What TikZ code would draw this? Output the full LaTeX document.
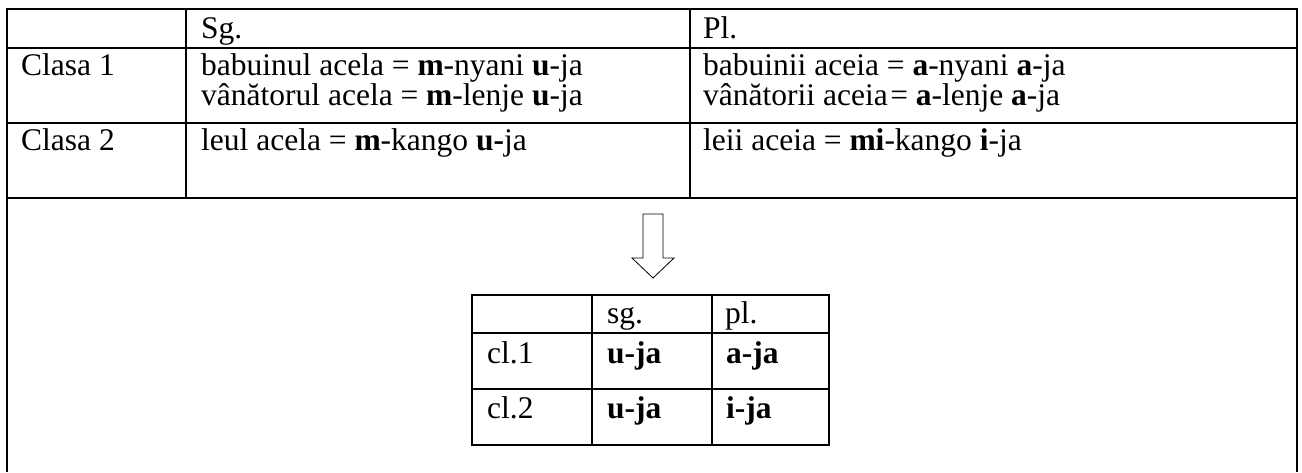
\documentclass[tikz,border=0pt]{standalone}
\usepackage{fontspec}
\setmainfont{Liberation Serif}
\usetikzlibrary{positioning}

\tikzset{
  cell/.style={anchor=base west, inner sep=0pt, font=\fontsize{31.5}{30}\selectfont},
  rule/.style={line width=1.6pt},
}

\begin{document}
\begin{tikzpicture}[x=1pt,y=-1pt]
\useasboundingbox (0,0) rectangle (1302,472);

% big table
\draw[rule] (7,472) -- (7,9) -- (1297,9) -- (1297,472);
\draw[rule] (7,48) -- (1297,48);
\draw[rule] (7,123) -- (1297,123);
\draw[rule] (7,198) -- (1297,198);
\draw[rule] (186,9) -- (186,198);
\draw[rule] (690,9) -- (690,198);

\node (sg) [cell] at (201,38) {Sg.};
\node (pl) [cell] at (703,38) {Pl.};
\node (clasa1) [cell] at (21,75) {Clasa 1};
\node (clasa2) [cell] at (21,150) {Clasa 2};

\node (sgbab) [cell] at (201,75) {babuinul acela = \textbf{m}-nyani \textbf{u}-ja};
\node (sgvan) [cell] at ([yshift=-30pt]sgbab.base west) {vânătorul acela = \textbf{m}-lenje \textbf{u}-ja};
\node (plbab) [cell] at (703,75) {babuinii aceia = \textbf{a}-nyani \textbf{a}-ja};
\node (plvan) [cell] at ([yshift=-30pt]plbab.base west) {vânătorii aceia\hspace{0.08em}= \textbf{a}-lenje \textbf{a}-ja};
\node (sgleu) [cell] at (201,150) {leul acela = \textbf{m}-kango \textbf{u-}ja};
\node (plleu) [cell] at (703,150) {leii aceia = \textbf{mi}-kango \textbf{i}-ja};

% arrow
\draw[line width=0.8pt] (643,214) -- (663,214) -- (663,258) -- (674,258)
  -- (653,278) -- (632,258) -- (643,258) -- cycle;

% small table
\draw[rule] (472,295) rectangle (829,445);
\draw[rule] (472,333) -- (829,333);
\draw[rule] (472,389) -- (829,389);
\draw[rule] (592,295) -- (592,445);
\draw[rule] (712,295) -- (712,445);

\node (ssg) [cell] at (607,323) {sg.};
\node (spl) [cell] at (725,323) {pl.};
\node (cl1) [cell] at (487,363) {cl.1};
\node (cl2) [cell] at (487,418) {cl.2};
\node (cl1sg) [cell] at (607,363) {\textbf{u-ja}};
\node (cl1pl) [cell] at (726,363) {\textbf{a-ja}};
\node (cl2sg) [cell] at (607,418) {\textbf{u-ja}};
\node (cl2pl) [cell] at (726,418) {\textbf{i-ja}};
\end{tikzpicture}
\end{document}
